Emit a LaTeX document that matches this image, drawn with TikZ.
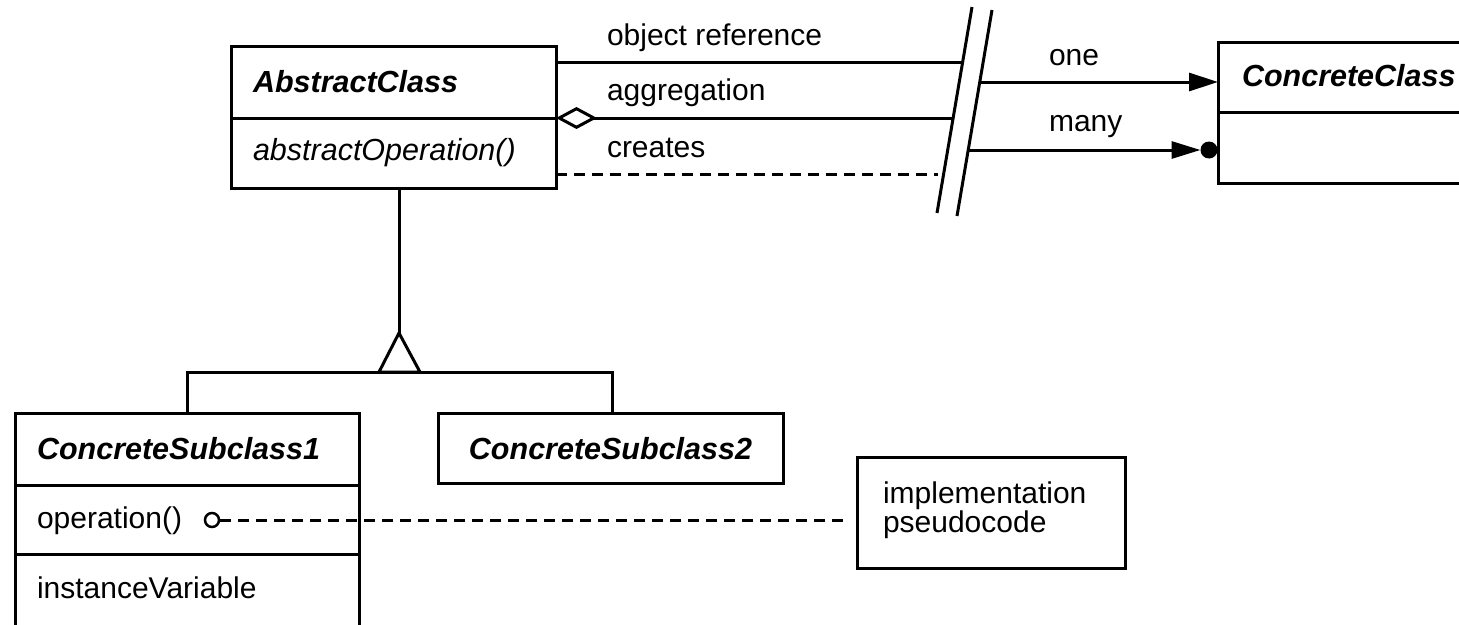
\documentclass[tikz,border=0pt]{standalone}
\usepackage{fontspec}
\setmainfont{Liberation Sans}
\usetikzlibrary{arrows.meta}
\begin{document}
\begin{tikzpicture}[x=1pt,y=-1pt,line width=3pt,
  box/.style={draw,rectangle,inner sep=0pt,outer sep=0pt,anchor=north west},
  lbl/.style={inner sep=0pt,outer sep=0pt,anchor=base west,font=\fontsize{30}{34}\selectfont},
  ttl/.style={lbl,font=\fontsize{30.5}{34}\selectfont\bfseries\itshape},
  itl/.style={lbl,font=\fontsize{30.5}{34}\selectfont\itshape},
  dsh/.style={dash pattern=on 11pt off 7pt},
  tri/.style={-{Triangle[length=29pt,width=18pt]}}]
\path[use as bounding box] (0,0) rectangle (1459,624);
\fill[white] (0,0) rectangle (1459,624);
\clip (0,0) rectangle (1459,624);

% class boxes
\node[box,minimum width=325pt,minimum height=142pt] (AC) at (231,46) {};
\node[box,minimum width=300pt,minimum height=141pt] (CC) at (1218,42) {};
\node[box,minimum width=344pt,minimum height=260pt] (CS1) at (15,413) {};
\node[box,minimum width=345pt,minimum height=70pt] (CS2) at (438,413) {};
\node[box,minimum width=268pt,minimum height=111pt] (note) at (857,457) {};

% compartment dividers
\coordinate (acd) at (0,118);
\coordinate (ccd) at (0,112);
\coordinate (csd1) at (0,485);
\coordinate (csd2) at (0,554);
\draw (AC.west |- acd) -- (AC.east |- acd);
\draw (CC.west |- ccd) -- (CC.east |- ccd);
\draw (CS1.west |- csd1) -- (CS1.east |- csd1);
\draw (CS1.west |- csd2) -- (CS1.east |- csd2);

% texts
\node[ttl] (tAC) at (253,92) {AbstractClass};
\node[itl] (tACop) at (253,160) {abstractOperation()};
\node[ttl] (tCC) at (1242,86) {ConcreteClass};
\node[ttl] (tCS1) at (37,459) {ConcreteSubclass1};
\node[ttl,anchor=base] (tCS2) at (610.5,459) {ConcreteSubclass2};
\node[lbl] (op) at (37,528) {operation()};
\node[lbl] (iv) at (37,598) {instanceVariable};
\node[lbl] (impl) at (883,503) {implementation};
\node[lbl] (pseudo) at (883,532) {pseudocode};
\node[lbl] (lor) at (607,45) {object reference};
\node[lbl] (lag) at (607,100) {aggregation};
\node[lbl] (lcr) at (607,157) {creates};
\node[lbl] (lone) at (1049,65) {one};
\node[lbl] (lmany) at (1049,131) {many};

% break (slash) lines
\coordinate (Lt) at (972,7);
\coordinate (Lb) at (937,213);
\coordinate (Rt) at (992,10);
\coordinate (Rb) at (957,216);
\draw (Lt) -- (Lb);
\draw (Rt) -- (Rb);
\coordinate (L1) at (963,62);
\coordinate (L2) at (953,118);
\coordinate (L3) at (938,174);
\coordinate (R1) at (980,82);
\coordinate (R2) at (968,150);

% connectors from AbstractClass
\draw (AC.east |- L1) -- (L1);
\draw[{Diamond[open,length=41pt,width=22pt]}-] (AC.east |- L2) -- (L2);
\draw[dsh] (AC.east |- L3) -- (L3);

% connectors to ConcreteClass
\node[circle,fill=black,inner sep=0pt,outer sep=0pt,minimum size=17pt] (dot) at (1209,150) {};
\draw[tri] (R1) -- (CC.west |- R1);
\draw[-{Triangle[length=29pt,width=17pt]}] (R2) -- (dot.west);

% inheritance
\coordinate (apex) at (399,333);
\coordinate (tl) at (379,372);
\coordinate (tr) at (420,372);
\coordinate (j1) at (187,372);
\coordinate (j2) at (612,372);
\draw (AC.south -| apex) -- (apex);
\draw (CS1.north -| j1) -- (j1) -- (j2) -- (CS2.north -| j2);
\draw[line join=miter,fill=white] (apex) -- (tl) -- (tr) -- cycle;

% implementation note
\node[circle,draw,line width=2.5pt,fill=white,inner sep=0pt,minimum size=14pt] (opc) at (212,520) {};
\draw[dsh] (opc.east) -- ([xshift=-10pt]note.west |- opc);
\end{tikzpicture}
\end{document}
